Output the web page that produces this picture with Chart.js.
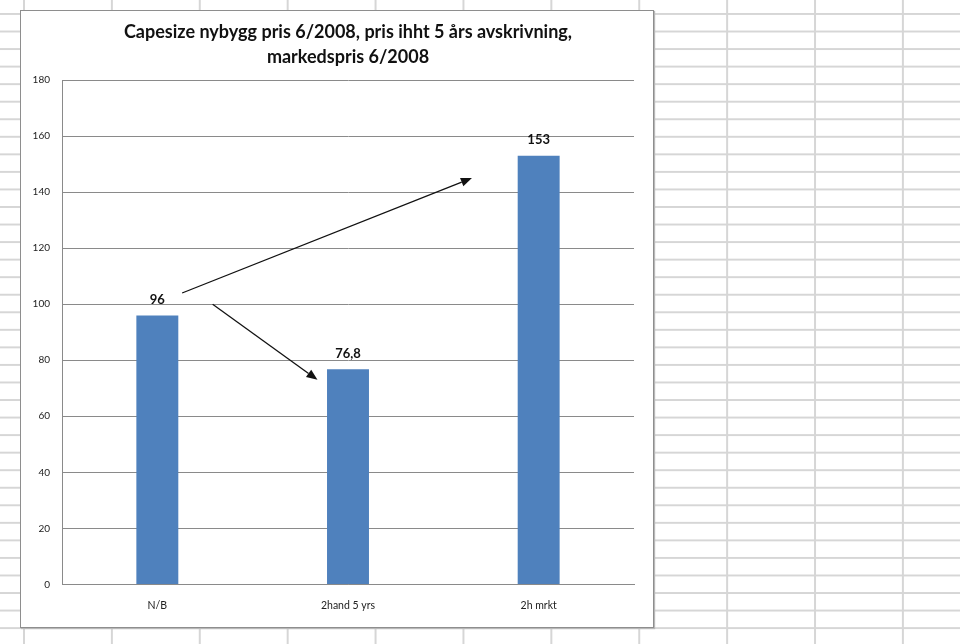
<!DOCTYPE html>
<html>
<head>
<meta charset="utf-8">
<script src="https://cdn.jsdelivr.net/npm/chart.js@4.4.1/dist/chart.umd.min.js"></script>
<style>
  html, body { margin: 0; padding: 0; }
  body {
    width: 960px; height: 644px; overflow: hidden; position: relative;
    background-color: #fff;
    background-image:
      linear-gradient(to right, #d6d6d6 0, #d6d6d6 2px, transparent 2px),
      linear-gradient(to bottom, #d6d6d6 0, #d6d6d6 2px, transparent 2px);
    background-size: 87.9px 17.55px;
    background-position: 23px 13px;
  }
  #frame {
    position: absolute; left: 20px; top: 10px;
    width: 634px; height: 618px; box-sizing: border-box;
    border: 1px solid #8e8e8e; background: #fff;
    box-shadow: 1px 1px 1px #b8b8b8;
  }
</style>
</head>
<body>
<div id="frame"><canvas id="myChart"></canvas></div>
<script>
const ctx = document.getElementById("myChart").getContext("2d");

const labels = ["N/B", "2hand 5 yrs", "2h mrkt"];
const values = [96, 76.8, 153];
const yTicks = [0, 20, 40, 60, 80, 100, 120, 140, 160, 180];

// arrows: [fromCategory, fromValue, toCategory, toValue]
const arrowUp = [0.13, 104, 1.65, 145];
const arrowDown = [0.29, 100, 0.84, 73];
const arrows = [arrowUp, arrowDown];

const fmt = (v) => String(v).replace(".", ",");

const valueLabels = {
    id: "valueLabels",
    afterDatasetsDraw(chart) {
        const c = chart.ctx;
        const meta = chart.getDatasetMeta(0);
        c.save();
        c.font = "bold 13px Lato";
        c.fillStyle = "#111";
        c.textAlign = "center";
        c.textBaseline = "bottom";
        meta.data.forEach((bar, i) => {
            c.fillText(fmt(values[i]), bar.x, bar.y - 9);
        });
        c.restore();
    }
};

const arrowPlugin = {
    id: "arrowPlugin",
    afterDraw(chart) {
        const c = chart.ctx;
        const xs = chart.scales.x;
        const ys = chart.scales.y;
        c.save();
        c.strokeStyle = "#111";
        c.fillStyle = "#111";
        c.lineWidth = 1.3;
        arrows.forEach((a) => {
            const x1 = xs.getPixelForValue(a[0]);
            const y1 = ys.getPixelForValue(a[1]);
            const x2 = xs.getPixelForValue(a[2]);
            const y2 = ys.getPixelForValue(a[3]);
            const ang = Math.atan2(y2 - y1, x2 - x1);
            const len = 11, half = 4.5;
            const bx = x2 - len * Math.cos(ang);
            const by = y2 - len * Math.sin(ang);
            c.beginPath();
            c.moveTo(x1, y1);
            c.lineTo(bx, by);
            c.stroke();
            c.beginPath();
            c.moveTo(x2, y2);
            c.lineTo(bx + half * Math.sin(ang), by - half * Math.cos(ang));
            c.lineTo(bx - half * Math.sin(ang), by + half * Math.cos(ang));
            c.closePath();
            c.fill();
        });
        c.restore();
    }
};

const data = {
    labels,
    datasets: [
        {
            data: values,
            backgroundColor: "#4f81bd",
            borderWidth: 0,
            barPercentage: 0.44,
            categoryPercentage: 0.5,
        }
    ]
};

const config = {
    type: "bar",
    data: data,
    options: {
        responsive: true,
        maintainAspectRatio: false,
        animation: false,
        layout: {
            padding: { left: 0, right: 19, top: 0, bottom: 0 }
        },
        plugins: {
            legend: { display: false },
            tooltip: { enabled: false },
            title: {
                display: true,
                fullSize: false, // centre over the plot area, like Excel
                text: ["Capesize nybygg pris 6/2008, pris ihht 5 års avskrivning,", "markedspris 6/2008"],
                color: "#111",
                font: { family: "Lato", size: 18, weight: "bold", lineHeight: 1.39 },
                padding: { top: 9, bottom: 10 }
            }
        },
        scales: {
            x: {
                grid: { display: false, drawTicks: false },
                border: { color: "#8a8a8a", width: 1 },
                ticks: {
                    color: "#222",
                    font: { family: "Lato", size: 10.5 },
                    padding: 15
                }
            },
            y: {
                min: 0,
                max: 180,
                afterBuildTicks: (s) => { s.ticks = yTicks.map((v) => ({ value: v })); },
                afterFit: (s) => { s.width = 41; },
                grid: { color: "#8a8a8a", lineWidth: 1, drawTicks: false },
                border: { color: "#8a8a8a", width: 1 },
                ticks: {
                    color: "#222",
                    font: { family: "Lato", size: 10 },
                    padding: 12
                }
            }
        }
    },
    plugins: [valueLabels, arrowPlugin]
};

const myChart = new Chart(ctx, config);
</script>
</body>
</html>
